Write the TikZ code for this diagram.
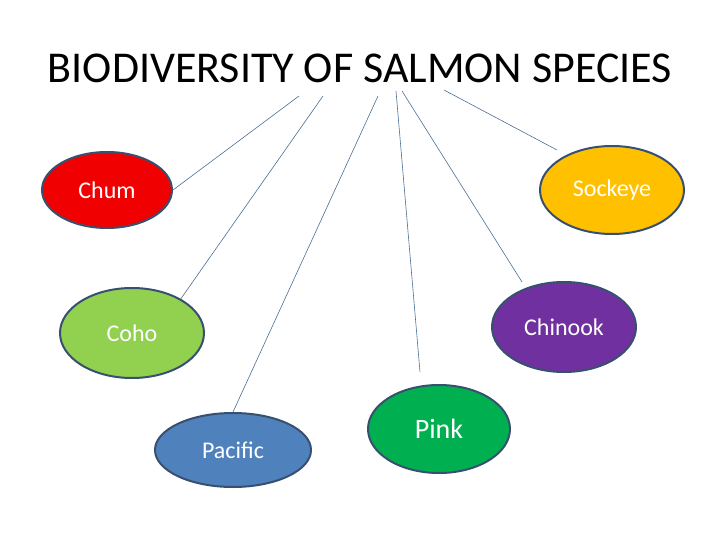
\documentclass[tikz,border=0pt]{standalone}
\usepackage{fontspec}
\setmainfont{Carlito}
\usetikzlibrary{shapes.geometric}
\definecolor{edgeblue}{RGB}{56,80,112}
\definecolor{lineblue}{RGB}{74,110,150}
\definecolor{chumred}{RGB}{240,0,0}
\definecolor{sockeyegold}{RGB}{255,192,0}
\definecolor{cohogreen}{RGB}{146,208,80}
\definecolor{chinookpurple}{RGB}{112,48,160}
\definecolor{pacificblue}{RGB}{79,129,189}
\definecolor{pinkgreen}{RGB}{0,176,80}

\begin{document}
\begin{tikzpicture}[x=1pt,y=-1pt,
  species/.style={ellipse, draw=edgeblue, line width=2pt, text=white, inner sep=0pt, font=\fontsize{24}{28}\selectfont},
  link/.style={draw=lineblue, line width=0.6pt}]
\useasboundingbox (0,0) rectangle (720,540);

\node[anchor=base, font=\fontsize{44}{52}\selectfont] (title) at (360,83) {BIODIVERSITY OF SALMON SPECIES};

\node[species, fill=chumred, minimum width=130pt, minimum height=76pt] (chum) at (107,190) {Chum};
\node[species, fill=sockeyegold, minimum width=144pt, minimum height=88pt] (sockeye) at (612,190) {Sockeye};
\node[species, fill=cohogreen, minimum width=144pt, minimum height=90pt] (coho) at (132,333) {Coho};
\node[species, fill=chinookpurple, minimum width=144pt, minimum height=90pt] (chinook) at (564,327) {Chinook};
\node[species, fill=pacificblue, minimum width=156pt, minimum height=74pt] (pacific) at (233,450) {Pacific};
\node[species, fill=pinkgreen, minimum width=142pt, minimum height=88pt, font=\fontsize{28}{32}\selectfont] (pink) at (439,429) {Pink};

%line starts under the title
\coordinate (topchum) at (299,96);
\coordinate (topcoho) at (323,96);
\coordinate (toppacific) at (378,96);
\coordinate (toppink) at (396,91);
\coordinate (topchinook) at (402,91);
\coordinate (topsockeye) at (444,90);
%free ends
\coordinate (pinkend) at (420,372);
\coordinate (chinookend) at (522,282);
\coordinate (sockeyeend) at (557,150);

\foreach \a/\b in {topchum/chum.east, topcoho/coho.35, toppacific/pacific.north,
  toppink/pinkend, topchinook/chinookend, topsockeye/sockeyeend}{
  \draw[link] (\a) -- (\b);
}
\end{tikzpicture}
\end{document}
